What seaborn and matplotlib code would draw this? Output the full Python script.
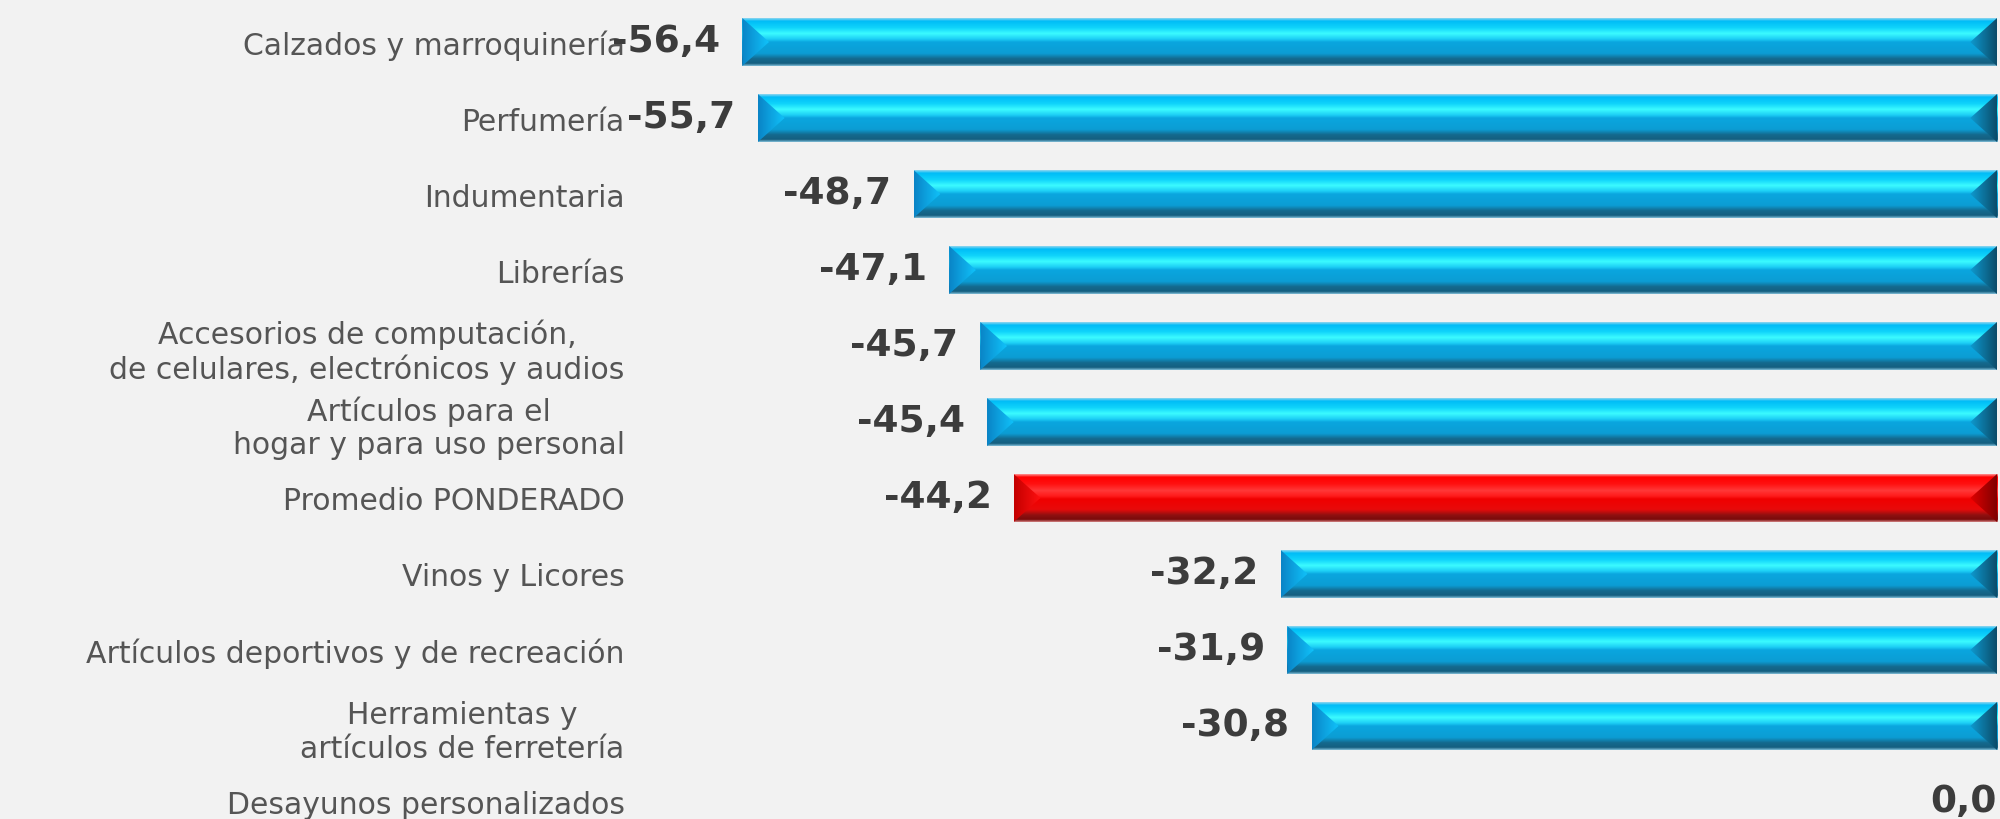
import numpy as np
import pandas as pd
import matplotlib
matplotlib.use("Agg")
import matplotlib.pyplot as plt
from matplotlib.colors import LinearSegmentedColormap
from matplotlib.patches import Polygon
import seaborn as sns

categories = [
    "Calzados y marroquinería",
    "Perfumería",
    "Indumentaria",
    "Librerías",
    "Accesorios de computación,\nde celulares, electrónicos y audios",
    "Artículos para el\nhogar y para uso personal",
    "Promedio PONDERADO",
    "Vinos y Licores",
    "Artículos deportivos y de recreación",
    "Herramientas y\nartículos de ferretería",
    "Desayunos personalizados",
]
values = [-56.4, -55.7, -48.7, -47.1, -45.7, -45.4, -44.2, -32.2, -31.9, -30.8, 0.0]
highlight = "Promedio PONDERADO"

df = pd.DataFrame({"categoria": categories, "variacion": values})

BG = "#f2f2f2"
blue_cmap = LinearSegmentedColormap.from_list(
    "blue_bevel",
    [(0.0, "#8fd6f0"), (0.06, "#00bcf7"), (0.2, "#10d4fb"), (0.32, "#3cfbff"),
     (0.44, "#1ccdf5"), (0.5, "#0aa6df"), (0.74, "#0c9dd4"), (0.85, "#14698e"),
     (0.95, "#155f80"), (1.0, "#7fbcd6")])
red_cmap = LinearSegmentedColormap.from_list(
    "red_bevel",
    [(0.0, "#ff9090"), (0.06, "#ff0000"), (0.2, "#ff1010"), (0.34, "#ff3838"),
     (0.46, "#ff1a1a"), (0.52, "#f00000"), (0.74, "#e80a0a"), (0.86, "#8e1010"),
     (0.95, "#7a0a0a"), (1.0, "#d08080")])
bevel_maps = {
    "blue": (LinearSegmentedColormap.from_list("bl", ["#0a84c6", "#10c2fa"]),
             LinearSegmentedColormap.from_list("br", ["#0e9ad0", "#0b4c6a"])),
    "red": (LinearSegmentedColormap.from_list("rl", ["#c40000", "#ff1010"]),
            LinearSegmentedColormap.from_list("rr", ["#e00000", "#800000"])),
}

fig = plt.figure(figsize=(20, 8.2), dpi=100, facecolor=BG)
ax = fig.add_axes([0.32, 0.0, 0.6785, 1.0])
ax.set_facecolor(BG)

palette = {c: ("#e00000" if c == highlight else "#0aa6df") for c in categories}
sns.barplot(data=df, x="variacion", y="categoria", hue="categoria", palette=palette,
            order=categories, width=0.63, legend=False, ax=ax, saturation=1)

grad_v = np.linspace(0, 1, 200).reshape(-1, 1)
grad_h = np.linspace(0, 1, 50).reshape(1, -1)
bevel = 1.2  # bevel depth, data units
for patch, cat in zip(ax.patches, categories):
    x0, w = patch.get_x(), patch.get_width()
    y0, h = patch.get_y(), patch.get_height()
    if abs(w) < 1e-9:
        continue
    left, right = min(x0, x0 + w), max(x0, x0 + w)
    top, bot = y0, y0 + h
    mid = y0 + h / 2
    key = "red" if cat == highlight else "blue"
    cmap = red_cmap if key == "red" else blue_cmap
    img = ax.imshow(grad_v, cmap=cmap, aspect="auto", interpolation="bilinear",
                    extent=[left, right, bot, top], zorder=3)
    img.set_clip_path(patch)
    patch.set_edgecolor("none")
    lmap, rmap = bevel_maps[key]
    tri_l = Polygon([(left, top), (left + bevel, mid), (left, bot)], closed=True,
                    facecolor="none", edgecolor="none")
    tri_r = Polygon([(right, top), (right - bevel, mid), (right, bot)], closed=True,
                    facecolor="none", edgecolor="none")
    ax.add_patch(tri_l)
    ax.add_patch(tri_r)
    il = ax.imshow(grad_h, cmap=lmap, aspect="auto", interpolation="bilinear",
                   extent=[left, left + bevel, bot, top], zorder=4)
    il.set_clip_path(tri_l)
    ir = ax.imshow(grad_h, cmap=rmap, aspect="auto", interpolation="bilinear",
                   extent=[right - bevel, right, bot, top], zorder=4)
    ir.set_clip_path(tri_r)

for i, v in enumerate(values):
    ax.annotate(f"{v:.1f}".replace(".", ","),
                xy=(v, i), xytext=(-16 if v != 0 else 0, 1),
                textcoords="offset points", ha="right", va="center",
                fontsize=27, fontweight="bold", color="#3c3c3c", zorder=5)

ax.set_xlim(-61, 0)
ax.set_ylim(10.224, -0.566)
ax.set_xlabel("")
ax.set_ylabel("")
ax.set_xticks([])
ax.tick_params(axis="y", length=0, pad=11, labelsize=21.5, labelcolor="#555555")
for lbl in ax.get_yticklabels():
    lbl.set_multialignment("center")
for s in ax.spines.values():
    s.set_visible(False)

fig.savefig("out.png", dpi=100, facecolor=BG)
